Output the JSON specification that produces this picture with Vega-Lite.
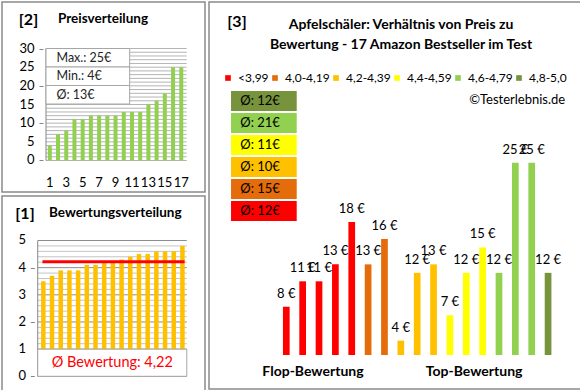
{
  "$schema": "https://vega.github.io/schema/vega-lite/v6.json",
  "background": "white",
  "padding": {"left": 1, "top": 1, "right": 1, "bottom": 1},
  "config": {
    "font": "Lato",
    "view": {"stroke": "#8a8a8a", "strokeWidth": 1.5},
    "axis": {"grid": false, "labelColor": "#000", "titleColor": "#000", "labelOverlap": false},
    "title": {"color": "#000"},
    "locale": {"number": {"decimal": ",", "thousands": ".", "grouping": [3], "currency": ["", " €"]}}
  },
  "datasets": {
    "products": [
      {"nr": 1, "rating": 3.5, "price": 8, "group": "<3,99"},
      {"nr": 2, "rating": 3.7, "price": 11, "group": "<3,99"},
      {"nr": 3, "rating": 3.9, "price": 11, "group": "<3,99"},
      {"nr": 4, "rating": 3.9, "price": 13, "group": "<3,99"},
      {"nr": 5, "rating": 3.9, "price": 18, "group": "<3,99"},
      {"nr": 6, "rating": 4.1, "price": 13, "group": "4,0-4,19"},
      {"nr": 7, "rating": 4.1, "price": 16, "group": "4,0-4,19"},
      {"nr": 8, "rating": 4.2, "price": 4, "group": "4,2-4,39"},
      {"nr": 9, "rating": 4.2, "price": 12, "group": "4,2-4,39"},
      {"nr": 10, "rating": 4.3, "price": 13, "group": "4,2-4,39"},
      {"nr": 11, "rating": 4.4, "price": 7, "group": "4,4-4,59"},
      {"nr": 12, "rating": 4.5, "price": 12, "group": "4,4-4,59"},
      {"nr": 13, "rating": 4.5, "price": 15, "group": "4,4-4,59"},
      {"nr": 14, "rating": 4.6, "price": 12, "group": "4,6-4,79"},
      {"nr": 15, "rating": 4.6, "price": 25, "group": "4,6-4,79"},
      {"nr": 16, "rating": 4.6, "price": 25, "group": "4,6-4,79"},
      {"nr": 17, "rating": 4.8, "price": 12, "group": "4,8-5,0"}
    ],
    "gridP": [{"v":0},{"v":1},{"v":2},{"v":3},{"v":4},{"v":5},{"v":6},{"v":7},{"v":8},{"v":9},{"v":10},{"v":11},{"v":12},{"v":13},{"v":14},{"v":15},{"v":16},{"v":17},{"v":18},{"v":19},{"v":20},{"v":21},{"v":22},{"v":23},{"v":24},{"v":25},{"v":26},{"v":27},{"v":28},{"v":29},{"v":30}],
    "gridR": [{"v":0},{"v":0.2},{"v":0.4},{"v":0.6},{"v":0.8},{"v":1},{"v":1.2},{"v":1.4},{"v":1.6},{"v":1.8},{"v":2},{"v":2.2},{"v":2.4},{"v":2.6},{"v":2.8},{"v":3},{"v":3.2},{"v":3.4},{"v":3.6},{"v":3.8},{"v":4},{"v":4.2},{"v":4.4},{"v":4.6},{"v":4.8},{"v":5}],
    "statsP": [{"label": "Max.: 25€"}, {"label": "Min.: 4€"}, {"label": "Ø: 13€"}],
    "avgR": [{"avg": 4.22, "label": "Ø Bewertung: 4,22"}],
    "boxes": [
      {"group": "4,8-5,0", "label": "Ø: 12€"},
      {"group": "4,6-4,79", "label": "Ø: 21€"},
      {"group": "4,4-4,59", "label": "Ø: 11€"},
      {"group": "4,2-4,39", "label": "Ø: 10€"},
      {"group": "4,0-4,19", "label": "Ø: 15€"},
      {"group": "<3,99", "label": "Ø: 12€"}
    ]
  },
  "spacing": 2,
  "resolve": {"scale": {"color": "independent"}, "legend": {"color": "independent"}},
  "hconcat": [
    {
      "spacing": 2,
      "vconcat": [
        {
          "width": 203,
          "height": 190,
          "title": {"text": "Preisverteilung", "anchor": "start", "frame": "group", "dx": 56, "offset": -30.5, "baseline": "middle", "fontSize": 13.5, "fontWeight": "bold"},
          "layer": [
            {
              "layer": [
                {
                  "data": {"name": "gridP"},
                  "mark": {"type": "rule", "color": "#b4b4b4", "strokeWidth": 1},
                  "encoding": {
                    "y": {"field": "v", "type": "quantitative", "scale": {"domain": [-8.44, 42.46], "nice": false, "zero": false},
                          "axis": {"values": [0,5,10,15,20,25,30], "labels": false, "domain": false, "ticks": true, "tickSize": 4, "tickColor": "#868686", "offset": -41,
                                   "title": "[2]", "titleX": -15, "titleY": 17, "titleAngle": 0, "titleAlign": "center", "titleBaseline": "middle", "titleFontSize": 16, "titleFontWeight": "bold"}},
                    "x": {"datum": 0.535, "type": "quantitative", "scale": {"domain": [-4.21, 19.28], "nice": false, "zero": false}, "axis": null},
                    "x2": {"datum": 17.66}
                  }
                },
                {
                  "data": {"values": [{}]},
                  "mark": {"type": "rule", "color": "#868686", "strokeWidth": 1},
                  "encoding": {
                    "x": {"datum": 0.535, "type": "quantitative"},
                    "y": {"datum": 0, "type": "quantitative"},
                    "y2": {"datum": 30}
                  }
                },
                {
                  "data": {"name": "products"},
                  "transform": [{"window": [{"op": "row_number", "as": "prank"}], "sort": [{"field": "price"}]}],
                  "mark": {"type": "bar", "size": 4, "color": "#92d050"},
                  "encoding": {
                    "x": {"field": "prank", "type": "quantitative"},
                    "y": {"field": "price", "type": "quantitative"},
                    "y2": {"datum": 0}
                  }
                },
                {
                  "data": {"name": "gridP"},
                  "transform": [{"filter": "datum.v % 5 == 0"}],
                  "mark": {"type": "text", "align": "right", "baseline": "middle", "fontSize": 13, "color": "#000"},
                  "encoding": {
                    "y": {"field": "v", "type": "quantitative"},
                    "x": {"datum": -0.854, "type": "quantitative"},
                    "text": {"field": "v", "type": "quantitative"}
                  }
                },
                {
                  "data": {"name": "products"},
                  "transform": [{"window": [{"op": "row_number", "as": "prank"}], "sort": [{"field": "price"}]}, {"filter": "datum.prank % 2 == 1"}],
                  "mark": {"type": "text", "align": "center", "baseline": "middle", "fontSize": 13, "color": "#000"},
                  "encoding": {
                    "x": {"field": "prank", "type": "quantitative"},
                    "y": {"datum": -6.0, "type": "quantitative"},
                    "text": {"field": "prank", "type": "quantitative"}
                  }
                }
              ]
            },
            {
              "data": {"name": "statsP"},
              "encoding": {
                "y": {"field": "label", "type": "nominal", "sort": null, "scale": {"range": [46.5, 102], "paddingInner": 0, "paddingOuter": 0}, "axis": null}
              },
              "layer": [
                {
                  "mark": {"type": "rect", "fill": "white", "stroke": "#a6a6a6", "strokeWidth": 1},
                  "encoding": {
                    "x": {"datum": 0.535, "type": "quantitative"},
                    "x2": {"datum": 10.72}
                  }
                },
                {
                  "mark": {"type": "text", "align": "left", "baseline": "middle", "fontSize": 12.5, "color": "#262626"},
                  "encoding": {
                    "x": {"datum": 1.81, "type": "quantitative"},
                    "text": {"field": "label"}
                  }
                }
              ]
            }
          ],
          "resolve": {"scale": {"y": "independent"}}
        },
        {
          "width": 203,
          "height": 195,
          "title": {"text": "Bewertungsverteilung", "anchor": "start", "frame": "group", "dx": 47, "offset": -30.5, "baseline": "middle", "fontSize": 13.5, "fontWeight": "bold"},
          "layer": [
            {
              "data": {"name": "gridR"},
              "mark": {"type": "rule", "strokeWidth": 1},
              "encoding": {
                "y": {"field": "v", "type": "quantitative", "scale": {"domain": [-0.541, 6.638], "nice": false, "zero": false},
                      "axis": {"values": [0,1,2,3,4,5], "labels": false, "domain": false, "ticks": true, "tickSize": 4, "tickColor": "#868686", "offset": -32.3,
                               "title": "[1]", "titleX": -9.8, "titleY": 17, "titleAngle": 0, "titleAlign": "center", "titleBaseline": "middle", "titleFontSize": 16, "titleFontWeight": "bold"}},
                "x": {"datum": 0.354, "type": "quantitative", "scale": {"domain": [-3.18, 19.02], "nice": false, "zero": false}, "axis": null},
                "x2": {"datum": 17.5},
                "color": {"condition": {"test": "datum.v == round(datum.v)", "value": "#8c8c8c"}, "value": "#c4c4c4"}
              }
            },
            {
              "data": {"values": [{}]},
              "mark": {"type": "rule", "color": "#868686", "strokeWidth": 1},
              "encoding": {
                "x": {"datum": 0.354, "type": "quantitative"},
                "y": {"datum": 0, "type": "quantitative"},
                "y2": {"datum": 5}
              }
            },
            {
              "data": {"name": "products"},
              "mark": {"type": "bar", "size": 4.5, "color": "#ffc000"},
              "encoding": {
                "x": {"field": "nr", "type": "quantitative"},
                "y": {"field": "rating", "type": "quantitative"},
                "y2": {"datum": 0}
              }
            },
            {
              "data": {"name": "avgR"},
              "mark": {"type": "rule", "color": "#ff0000", "strokeWidth": 3},
              "encoding": {
                "y": {"field": "avg", "type": "quantitative"},
                "x": {"datum": 0.9, "type": "quantitative"},
                "x2": {"datum": 17.25}
              }
            },
            {
              "data": {"name": "avgR"},
              "mark": {"type": "rect", "fill": "white", "stroke": "#a6a6a6", "strokeWidth": 1},
              "encoding": {
                "x": {"datum": 0.354, "type": "quantitative"},
                "x2": {"datum": 17.5},
                "y": {"datum": 1.0, "type": "quantitative"},
                "y2": {"datum": 0}
              }
            },
            {
              "data": {"name": "avgR"},
              "mark": {"type": "text", "align": "center", "baseline": "middle", "fontSize": 14.5, "color": "#ff0000"},
              "encoding": {
                "x": {"datum": 8.93, "type": "quantitative"},
                "y": {"datum": 0.5, "type": "quantitative"},
                "text": {"field": "label"}
              }
            },
            {
              "data": {"name": "gridR"},
              "transform": [{"filter": "datum.v == round(datum.v)"}],
              "mark": {"type": "text", "align": "right", "baseline": "middle", "fontSize": 13, "color": "#000"},
              "encoding": {
                "y": {"field": "v", "type": "quantitative"},
                "x": {"datum": -0.99, "type": "quantitative"},
                "text": {"field": "v", "type": "quantitative"}
              }
            }
          ]
        }
      ]
    },
    {
      "width": 372,
      "height": 387,
      "title": {"text": ["Apfelschäler: Verhältnis von Preis zu", "Bewertung - 17 Amazon Bestseller im Test"], "anchor": "middle", "frame": "group", "dx": 6, "offset": -57, "baseline": "middle", "lineHeight": 20, "fontSize": 14, "fontWeight": "bold"},
      "layer": [
        {
          "data": {"name": "products"},
          "layer": [
            {
              "mark": {"type": "bar", "size": 6.7},
              "encoding": {
                "x": {"field": "nr", "type": "quantitative", "scale": {"domain": [-3.419, 18.707], "nice": false, "zero": false},
                      "axis": {"values": [2.6, 12.45], "labelExpr": "datum.value < 8 ? 'Flop-Bewertung' : 'Top-Bewertung'", "domain": false, "ticks": false, "offset": -27, "labelPadding": 2, "labelFontSize": 14, "labelFontWeight": "bold", "labelFlush": false, "labelOverlap": false,
                               "title": "©Testerlebnis.de", "titleX": 355.7, "titleY": -263, "titleAlign": "right", "titleBaseline": "middle", "titleAngle": 0, "titleFontSize": 13, "titleFontWeight": "normal"}},
                "y": {"field": "price", "type": "quantitative", "scale": {"domain": [-1.711, 43.97], "nice": false, "zero": false},
                      "axis": {"labels": false, "ticks": false, "domain": false, "grid": false, "title": "[3]", "titleX": 27.5, "titleY": 19, "titleAngle": 0, "titleAlign": "center", "titleBaseline": "middle", "titleFontSize": 16, "titleFontWeight": "bold"}},
                "y2": {"datum": 2.3},
                "color": {"field": "group", "type": "nominal",
                          "scale": {"domain": ["<3,99", "4,0-4,19", "4,2-4,39", "4,4-4,59", "4,6-4,79", "4,8-5,0"], "range": ["#ff0000", "#e46c0a", "#ffc000", "#ffff00", "#92d050", "#77933c"]},
                          "legend": {"orient": "none", "legendX": 13, "legendY": 70, "direction": "horizontal", "padding": 0, "title": null,
                                     "symbolType": "square", "symbolSize": 32, "symbolStrokeWidth": 0, "labelFontSize": 12, "labelColor": "#000", "labelOffset": 4, "columnPadding": 0}}
              }
            },
            {
              "mark": {"type": "text", "align": "center", "baseline": "middle", "dy": -13, "fontSize": 13, "color": "#000"},
              "encoding": {
                "x": {"field": "nr", "type": "quantitative"},
                "y": {"field": "price", "type": "quantitative"},
                "text": {"field": "price", "type": "quantitative", "format": "$.0f"}
              }
            }
          ]
        },
        {
          "data": {"name": "boxes"},
          "encoding": {
            "y": {"field": "group", "type": "nominal", "sort": null, "scale": {"range": [89, 219], "paddingInner": 0.09, "paddingOuter": 0}, "axis": null}
          },
          "layer": [
            {
              "mark": {"type": "rect"},
              "encoding": {
                "x": {"datum": -2.378, "type": "quantitative"},
                "x2": {"datum": 1.637},
                "color": {"field": "group", "type": "nominal"}
              }
            },
            {
              "mark": {"type": "text", "align": "left", "baseline": "middle", "fontSize": 13, "color": "#000"},
              "encoding": {
                "x": {"datum": -1.813, "type": "quantitative"},
                "text": {"field": "label"}
              }
            }
          ]
        }
      ],
      "resolve": {"scale": {"y": "independent"}}
    }
  ]
}
